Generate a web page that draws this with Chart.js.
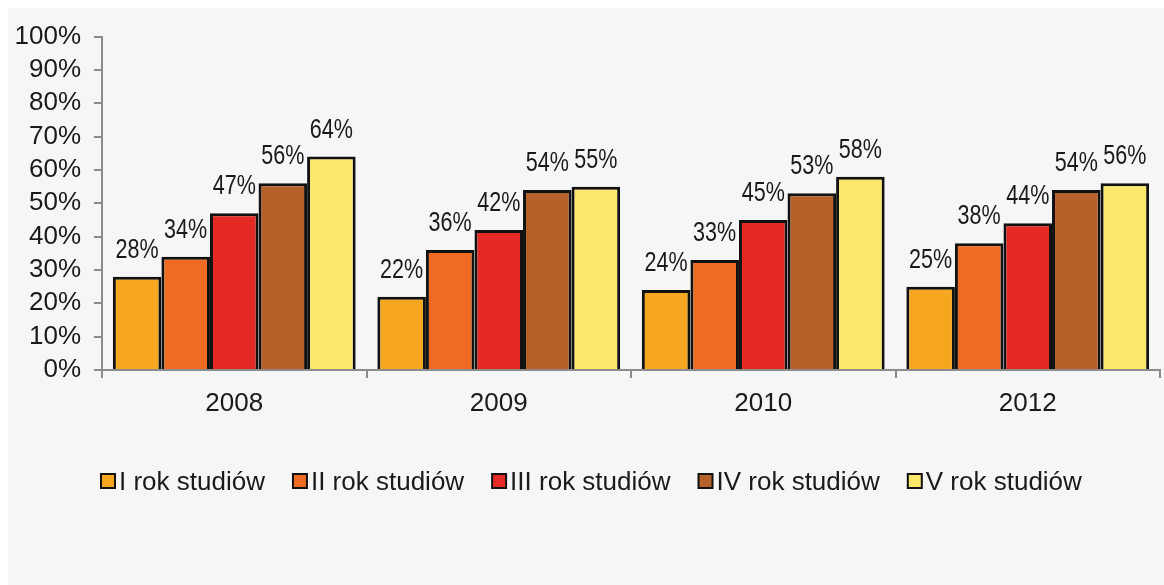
<!DOCTYPE html>
<html>
<head>
<meta charset="utf-8">
<script src="https://cdn.jsdelivr.net/npm/chart.js@4/dist/chart.umd.min.js"></script>
<style>
  html, body { margin: 0; padding: 0; background: #fff; overflow: hidden; }
  #wrap { position: absolute; left: 8px; top: 8px; width: 1156px; height: 577px; background: #f5f6f5; }
</style>
</head>
<body>
<div id="wrap"><canvas id="myChart" width="1156" height="577"></canvas></div>
<script>
// data
const years = ["2008", "2009", "2010", "2012"];
const seriesNames = ["I rok studiów", "II rok studiów", "III rok studiów", "IV rok studiów", "V rok studiów"];
const rok1 = [28, 22, 24, 25];
const rok2 = [34, 36, 33, 38];
const rok3 = [47, 42, 45, 44];
const rok4 = [56, 54, 53, 54];
const rok5 = [64, 55, 58, 56];
const barColors = ["#f6a71f", "#ef6b22", "#e52a26", "#b6602a", "#fbe76a"];

const axisGray = "#8c8c8c";
const fontFam = "'Liberation Sans', Arial, sans-serif";

// value labels above each bar (condensed like the original)
const barLabels = {
  id: "barLabels",
  afterDatasetsDraw(chart) {
    const ctx = chart.ctx;
    ctx.save();
    ctx.fillStyle = "#1a1a1a";
    ctx.font = "28px " + fontFam;
    ctx.textAlign = "center";
    ctx.textBaseline = "alphabetic";
    chart.data.datasets.forEach((ds, i) => {
      chart.getDatasetMeta(i).data.forEach((bar, j) => {
        ctx.save();
        ctx.translate(bar.x, bar.y - 19);
        ctx.scale(0.77, 1);
        ctx.fillText(ds.data[j] + "%", 0, 0);
        ctx.restore();
      });
    });
    ctx.restore();
  }
};

// legend under the axis, small boxes close to the text
const bottomLegend = {
  id: "bottomLegend",
  afterDraw(chart) {
    const ctx = chart.ctx;
    const box = 14;
    const gapText = 4;
    const gapItem = 28;
    const centerY = 474;
    ctx.save();
    ctx.font = "26px " + fontFam;
    let x = 93;
    chart.data.datasets.forEach((ds) => {
      ctx.fillStyle = ds.backgroundColor;
      ctx.fillRect(x, centerY - box / 2 - 1, box, box);
      ctx.strokeStyle = "#111";
      ctx.lineWidth = 2;
      ctx.strokeRect(x, centerY - box / 2 - 1, box, box);
      ctx.fillStyle = "#1a1a1a";
      ctx.textAlign = "left";
      ctx.textBaseline = "middle";
      ctx.fillText(ds.label, x + box + gapText, centerY + 1);
      x += box + gapText + ctx.measureText(ds.label).width + gapItem;
    });
    ctx.restore();
  }
};

const allValues = [rok1, rok2, rok3, rok4, rok5];

function createChart() {
  const canvas = document.getElementById("myChart").getContext("2d");
  const datasets = allValues.map((vals, i) => ({
    label: seriesNames[i],
    data: vals,
    backgroundColor: barColors[i],
    borderColor: "#111",
    borderWidth: 3,
    borderSkipped: "start",
    categoryPercentage: 0.918,
    barPercentage: 1.0
  }));

  new Chart(canvas, {
    type: "bar",
    data: { labels: years, datasets: datasets },
    plugins: [barLabels, bottomLegend],
    options: {
      responsive: false,
      animation: false,
      layout: { padding: { left: 0, right: 4, top: 28, bottom: 168 } },
      plugins: {
        legend: { display: false },
        tooltip: { enabled: false }
      },
      scales: {
        x: {
          afterFit(scale) { scale.height = 47; },
          grid: { offset: true, drawOnChartArea: false, drawTicks: true, tickLength: 8, color: axisGray, lineWidth: 2 },
          border: { color: axisGray, width: 2 },
          ticks: { color: "#1a1a1a", padding: 10, font: { family: fontFam, size: 26 } }
        },
        y: {
          min: 0,
          max: 100,
          afterFit(scale) { scale.width = 94; },
          grid: { drawOnChartArea: false, drawTicks: true, tickLength: 8, color: axisGray, lineWidth: 2 },
          border: { color: axisGray, width: 2 },
          ticks: {
            stepSize: 10,
            autoSkip: false,
            padding: 13,
            color: "#1a1a1a",
            font: { family: fontFam, size: 26 },
            callback: (v) => v + "%"
          }
        }
      }
    }
  });
}

createChart();
</script>
</body>
</html>
